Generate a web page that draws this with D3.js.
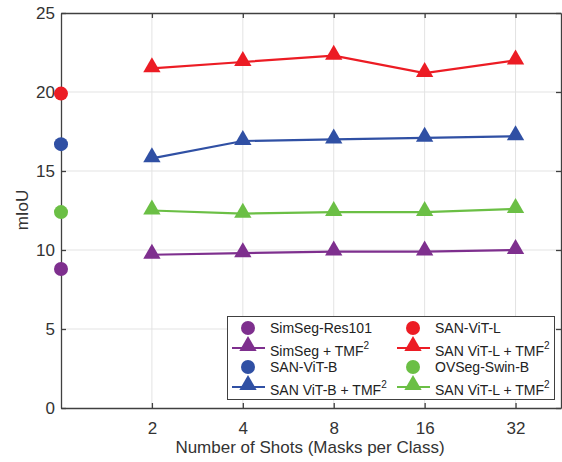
<!DOCTYPE html>
<html>
<head>
<meta charset="utf-8">
<script src="https://cdn.jsdelivr.net/npm/d3@7"></script>
<style>
html,body{margin:0;padding:0;background:#fff;}
svg{display:block;font-family:"Liberation Sans",Arial,Helvetica,sans-serif;}
</style>
</head>
<body>
<svg id="chart" width="562" height="462"></svg>
<script>
// ---- data ----
const shots = ["2", "4", "8", "16", "32"];
const yTicks = [0, 5, 10, 15, 20, 25];
const baselineNames = ["SimSeg-Res101", "SAN-ViT-B", "OVSeg-Swin-B", "SAN-ViT-L"];
const baselineValues = [8.8, 16.7, 12.4, 19.9];
const simsegTMF = [9.7, 9.8, 9.9, 9.9, 10.0];
const sanBTMF = [15.8, 16.9, 17.0, 17.1, 17.2];
const ovsegTMF = [12.5, 12.3, 12.4, 12.4, 12.6];
const sanLTMF = [21.5, 21.9, 22.3, 21.2, 22.0];
const colors = {purple: "#7E2F8E", blue: "#3050A4", green: "#6BBF45", red: "#EC1C24"};

const svg = d3.select("#chart");
const m = {left: 61, right: 561, top: 13, bottom: 408};
const x = d3.scaleLinear().domain([0, 5.5]).range([m.left, m.right]);
const y = d3.scaleLinear().domain([0, 25]).range([m.bottom, m.top]);
const axisColor = "#404040";

// grid
const g = svg.append("g");
g.selectAll(".gx").data(shots).enter().append("line")
  .attr("x1", (d, i) => x(i + 1)).attr("x2", (d, i) => x(i + 1))
  .attr("y1", m.top).attr("y2", m.bottom)
  .attr("stroke", "#e3e3e3").attr("stroke-width", 1);
g.selectAll(".gy").data(yTicks.slice(1, -1)).enter().append("line")
  .attr("x1", m.left).attr("x2", m.right)
  .attr("y1", d => y(d)).attr("y2", d => y(d))
  .attr("stroke", "#e3e3e3").attr("stroke-width", 1);

// axes
const xAxis = d3.axisBottom(x).tickValues(shots.map((d, i) => i + 1))
  .tickFormat((d) => shots[d - 1]).tickSizeInner(-5).tickSizeOuter(0).tickPadding(14);
const yAxis = d3.axisLeft(y).tickValues(yTicks).tickSizeInner(-5).tickSizeOuter(0).tickPadding(6);
const xTop = d3.axisTop(x).tickValues(shots.map((d, i) => i + 1)).tickFormat("").tickSizeInner(-5).tickSizeOuter(0);
const yRight = d3.axisRight(y).tickValues(yTicks).tickFormat("").tickSizeInner(-5).tickSizeOuter(0);

function styleAxis(sel) {
  sel.select(".domain").attr("stroke", axisColor).attr("stroke-width", 1.3);
  sel.selectAll(".tick line").attr("stroke", axisColor).attr("stroke-width", 1.3);
  sel.selectAll(".tick text").attr("fill", "#333").attr("font-size", 17)
    .attr("font-family", "'Liberation Sans',Arial,sans-serif");
}
svg.append("g").attr("transform", `translate(0,${m.bottom})`).call(xAxis).call(styleAxis);
svg.append("g").attr("transform", `translate(${m.left},0)`).call(yAxis).call(styleAxis);
svg.append("g").attr("transform", `translate(0,${m.top})`).call(xTop).call(styleAxis);
svg.append("g").attr("transform", `translate(${m.right},0)`).call(yRight).call(styleAxis);

// axis labels
svg.append("text").attr("x", 310).attr("y", 453).attr("text-anchor", "middle")
  .attr("font-size", 17).attr("fill", "#333").text("Number of Shots (Masks per Class)");
svg.append("text").attr("transform", "translate(28,210) rotate(-90)").attr("text-anchor", "middle")
  .attr("font-size", 17).attr("fill", "#333").text("mIoU");

// series
const tri = d3.symbol().type(d3.symbolTriangle).size(130);
const series = [
  {vals: simsegTMF, c: colors.purple},
  {vals: ovsegTMF, c: colors.green},
  {vals: sanBTMF, c: colors.blue},
  {vals: sanLTMF, c: colors.red}
];
const line = d3.line().x((d, i) => x(i + 1)).y(d => y(d));
series.forEach(s => {
  svg.append("path").datum(s.vals).attr("d", line).attr("fill", "none")
    .attr("stroke", s.c).attr("stroke-width", 2.2);
  svg.selectAll(null).data(s.vals).enter().append("path")
    .attr("d", tri).attr("fill", s.c)
    .attr("transform", (d, i) => `translate(${x(i + 1)},${y(d) - 1})`);
});
const baseColors = [colors.purple, colors.blue, colors.green, colors.red];
svg.selectAll(null).data(baselineValues).enter().append("circle")
  .attr("cx", x(0)).attr("cy", d => y(d)).attr("r", 7)
  .attr("fill", (d, i) => baseColors[i]);

// legend
const lg = svg.append("g");
lg.append("rect").attr("x", 227.5).attr("y", 316.5).attr("width", 327).attr("height", 83)
  .attr("fill", "#fff").attr("stroke", "#404040").attr("stroke-width", 1);
const legendItems = [
  {col: 0, row: 0, type: "dot", c: colors.purple, label: "SimSeg-Res101", sup: false},
  {col: 0, row: 1, type: "tri", c: colors.purple, label: "SimSeg + TMF", sup: true},
  {col: 0, row: 2, type: "dot", c: colors.blue, label: "SAN-ViT-B", sup: false},
  {col: 0, row: 3, type: "tri", c: colors.blue, label: "SAN ViT-B + TMF", sup: true},
  {col: 1, row: 0, type: "dot", c: colors.red, label: "SAN-ViT-L", sup: false},
  {col: 1, row: 1, type: "tri", c: colors.red, label: "SAN ViT-L + TMF", sup: true},
  {col: 1, row: 2, type: "dot", c: colors.green, label: "OVSeg-Swin-B", sup: false},
  {col: 1, row: 3, type: "tri", c: colors.green, label: "SAN ViT-L + TMF", sup: true}
];
const rowY = [328, 347, 367, 386];
const colX = [248, 413];
legendItems.forEach(it => {
  const cx = colX[it.col], cy = rowY[it.row];
  if (it.type === "dot") {
    lg.append("circle").attr("cx", cx).attr("cy", cy).attr("r", 7).attr("fill", it.c);
  } else {
    lg.append("line").attr("x1", cx - 16).attr("x2", cx + 17).attr("y1", cy + 1).attr("y2", cy + 1)
      .attr("stroke", it.c).attr("stroke-width", 2.2);
    lg.append("path").attr("d", tri).attr("fill", it.c).attr("transform", `translate(${cx},${cy - 1})`);
  }
  const t = lg.append("text").attr("x", cx + 22).attr("y", cy + (it.type === "tri" ? 9 : 5))
    .attr("font-size", 14).attr("fill", "#222");
  t.append("tspan").text(it.label);
  if (it.sup) t.append("tspan").attr("font-size", 10).attr("dy", -7).text("2");
});
</script>
</body>
</html>
